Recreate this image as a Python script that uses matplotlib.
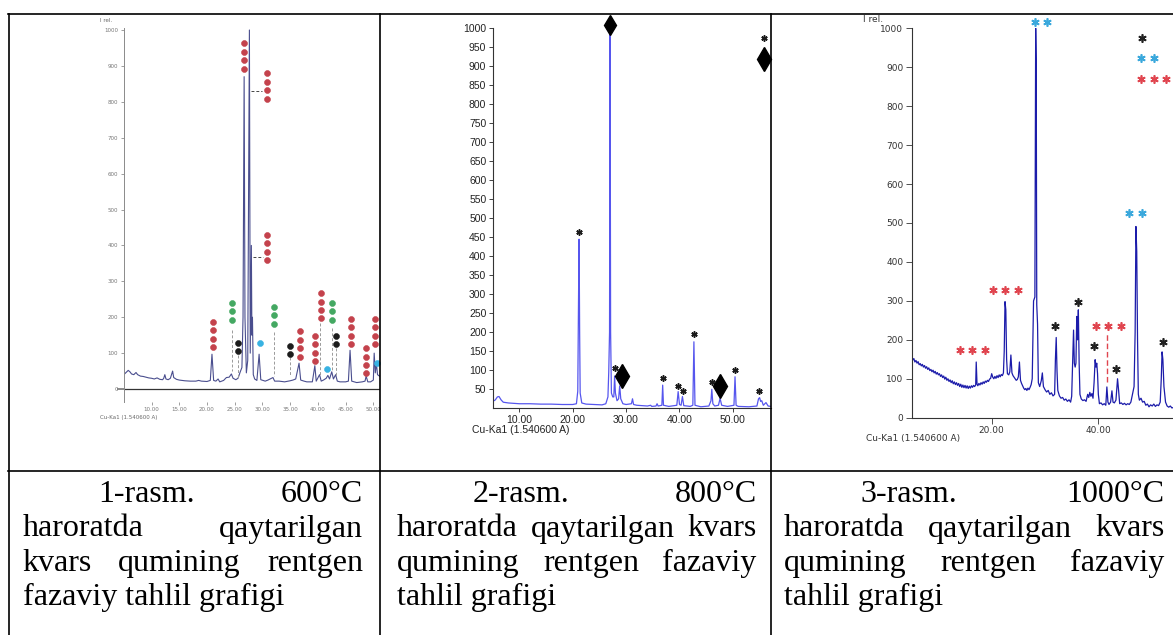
import matplotlib
matplotlib.use("Agg")
import matplotlib.pyplot as plt
from matplotlib.lines import Line2D
from matplotlib.transforms import offset_copy

W, H, DPI = 1173, 635, 100

# ---------- 1-rasm, 600 C : (2theta, I rel.)
tt1 = [5.0, 5.4, 5.8, 6.1, 6.4, 6.8, 7.2, 7.5, 8.0, 8.5, 9.0, 9.5, 10.0, 10.5, 11.0,
       11.5, 12.0, 12.2, 12.4, 12.6, 13.0, 13.4, 13.7, 13.8, 14.0, 14.5, 15.0, 16.0,
       17.0, 18.0, 18.5, 19.0, 20.0, 20.6, 20.9, 21.2, 21.6, 22.0, 22.3, 23.0, 23.5,
       24.0, 24.4, 24.7, 25.2, 25.6, 26.0, 26.3, 26.5, 26.7, 26.85, 27.1, 27.35, 27.65,
       27.8, 28.0, 28.1, 28.2, 28.35, 28.6, 29.0, 29.4, 29.7, 30.5, 31.0, 31.9, 32.2,
       33.0, 34.0, 35.0, 35.5, 36.0, 36.6, 36.9, 37.5, 38.0, 39.0, 39.45, 39.7, 40.3,
       40.6, 41.0, 41.5, 41.8, 42.1, 42.5, 42.8, 43.2, 43.5, 44.0, 45.0, 45.5, 45.8,
       46.1, 47.0, 48.0, 48.5, 48.7, 49.0, 49.5, 50.0, 50.15, 50.35, 50.55, 50.75, 51.2]
ii1 = [40, 46, 52, 48, 42, 40, 46, 40, 36, 35, 33, 31, 30, 28, 31,
       27, 26, 30, 40, 28, 26, 30, 45, 50, 32, 27, 25, 23,
       22, 22, 24, 22, 21, 24, 97, 24, 22, 28, 20, 24, 32,
       33, 42, 30, 26, 30, 48, 60, 200, 870, 200, 45, 80, 1000,
       100, 400, 150, 200, 40, 28, 24, 97, 26, 22, 25, 32, 22,
       22, 20, 23, 25, 28, 72, 25, 22, 20, 20, 65, 22, 40,
       22, 25, 30, 38, 28, 48, 28, 40, 22, 20, 20, 22, 108,
       22, 18, 20, 22, 36, 20, 20, 25, 100, 45, 72, 40, 35]
# phase marks: (2theta, top value, count, colour)
dots1 = [(26.6, 963, 4, "#c4424c"), (30.8, 879, 4, "#c4424c"), (30.8, 429, 4, "#c4424c"),
         (21.0, 187, 4, "#c4424c"), (36.7, 161, 4, "#c4424c"), (39.5, 148, 4, "#c4424c"),
         (40.5, 267, 4, "#c4424c"), (46.0, 195, 4, "#c4424c"), (48.7, 114, 4, "#c4424c"),
         (50.3, 195, 4, "#c4424c"),
         (24.5, 240, 3, "#44a862"), (32.1, 229, 3, "#44a862"), (42.5, 240, 3, "#44a862"),
         (25.6, 129, 2, "#1c1c1c"), (35.0, 121, 2, "#1c1c1c"), (43.3, 148, 2, "#1c1c1c"),
         (29.6, 129, 1, "#38b2e2"), (41.7, 56, 1, "#38b2e2"), (50.6, 73, 1, "#38b2e2")]
vdash1 = [(24.5, 164, 50), (25.6, 95, 30), (32.1, 160, 35), (35.0, 88, 35),
          (40.4, 185, 40), (42.5, 170, 50), (43.3, 115, 40)]
hdash1 = [(27.9, 29.9, 831), (28.3, 30.1, 368)]

# ---------- 2-rasm, 800 C
tt2 = [5.0, 5.5, 5.9, 6.2, 6.6, 7.0, 8.0, 9.0, 10.0, 12.0, 14.0, 16.0, 18.0, 20.0,
       20.7, 20.95, 21.1, 21.2, 21.3, 21.4, 21.7, 22.5, 24.0, 25.5, 26.2, 26.6, 26.75,
       26.9, 27.0, 27.1, 27.25, 27.5, 27.7, 27.85, 28.0, 28.3, 28.6, 28.8, 29.0, 29.4,
       30.0, 31.0, 31.2, 31.4, 32.0, 34.0, 34.6, 34.8, 35.6, 35.8, 36.0, 36.7, 36.85,
       37.0, 38.0, 39.5, 39.75, 40.0, 40.3, 40.55, 40.8, 42.0, 42.5, 42.7, 42.9, 44.0,
       45.5, 45.9, 46.05, 46.25, 46.6, 47.3, 47.6, 47.9, 49.0, 50.2, 50.4, 50.6, 51.0,
       53.0, 54.5, 54.8, 55.0, 55.2, 55.4, 55.7, 56.2, 56.6, 57.1]
ii2 = [18, 22, 30, 31, 22, 16, 14, 13, 12, 12, 11, 11, 10, 10,
       12, 45, 300, 445, 200, 40, 14, 11, 10, 9, 12, 30, 95,
       200, 1000, 200, 40, 30, 30, 85, 40, 20, 25, 59, 25, 12,
       10, 12, 25, 10, 8, 6, 8, 5, 6, 12, 6, 8, 61,
       8, 5, 8, 44, 10, 8, 31, 7, 5, 8, 175, 8, 4,
       6, 20, 50, 12, 6, 8, 26, 8, 5, 8, 83, 8, 5,
       4, 6, 25, 28, 18, 20, 8, 15, 6, 5]
stars2 = [(21.2, 465), (27.9, 105), (36.9, 81), (39.7, 59), (40.6, 46), (42.7, 196),
          (46.0, 70), (50.4, 101), (54.8, 46), (55.9, 974)]
diam2 = [(27.0, 1009, 10), (29.2, 85, 12.5), (47.6, 59, 12.5), (55.9, 918, 12.5)]

# ---------- 3-rasm, 1000 C
tt3 = [5.0, 5.2, 5.4, 5.6, 5.8, 6.0, 6.2, 6.4, 6.6, 6.8, 7.0, 7.2, 7.4, 7.6, 7.8,
       8.0, 8.2, 8.4, 8.6, 8.8, 9.0, 9.2, 9.4, 9.6, 9.8, 10.0, 10.2, 10.4, 10.6, 10.8,
       11.0, 11.2, 11.4, 11.6, 11.8, 12.0, 12.2, 12.4, 12.6, 12.8, 13.0, 13.2, 13.4,
       13.6, 13.8, 14.0, 14.2, 14.4, 14.6, 14.8, 15.0, 15.2, 15.4, 15.6, 15.8, 16.0,
       16.2, 16.4, 16.6, 16.8, 17.0, 17.1, 17.25, 17.4, 17.6, 17.8, 18.0, 18.2, 18.4,
       18.6, 18.8, 19.0, 19.2, 19.4, 19.6, 19.8, 20.0, 20.2, 20.4, 20.6, 20.8, 21.0,
       21.2, 21.4, 21.6, 21.8, 22.0, 22.2, 22.35, 22.5, 22.65, 22.8, 22.95, 23.2, 23.4,
       23.6, 23.8, 24.0, 24.2, 24.4, 24.6, 24.8, 25.0, 25.2, 25.4, 25.6, 25.8, 26.0,
       26.2, 26.4, 26.6, 26.8, 27.0, 27.2, 27.4, 27.6, 27.85, 28.1, 28.25, 28.35, 28.45,
       28.6, 28.75, 29.0, 29.3, 29.5, 29.7, 30.0, 30.3, 30.6, 30.9, 31.2, 31.5, 31.8,
       31.95, 32.1, 32.25, 32.4, 32.7, 33.0, 33.3, 33.6, 33.9, 34.2, 34.5, 34.8, 35.0,
       35.2, 35.35, 35.5, 35.65, 35.8, 35.95, 36.1, 36.25, 36.4, 36.55, 36.8, 37.1, 37.4,
       37.7, 38.0, 38.2, 38.4, 38.6, 38.8, 39.0, 39.2, 39.4, 39.55, 39.7, 39.85, 40.0,
       40.2, 40.5, 40.8, 41.1, 41.4, 41.6, 41.8, 42.0, 42.3, 42.55, 42.75, 43.0, 43.3,
       43.6, 43.8, 44.0, 44.3, 44.6, 44.9, 45.2, 45.5, 45.8, 46.1, 46.4, 46.7, 46.9,
       47.05, 47.2, 47.35, 47.5, 47.7, 48.0, 48.3, 48.6, 48.9, 49.2, 49.5, 49.8, 50.1,
       50.4, 50.7, 51.0, 51.3, 51.6, 51.8, 51.95, 52.1, 52.3, 52.6, 52.9, 53.2, 53.5,
       53.8, 54.0]
ii3 = [156, 148, 152, 143, 147, 140, 144, 136, 139, 133, 137, 130, 134, 127, 131,
       124, 128, 121, 124, 118, 122, 115, 119, 112, 116, 110, 113, 106, 110, 103,
       107, 99, 104, 96, 100, 93, 97, 90, 95, 87, 92, 85, 90,
       83, 88, 80, 86, 78, 84, 77, 83, 76, 82, 75, 81, 76,
       82, 78, 83, 80, 84, 143, 86, 82, 88, 84, 90, 86, 92,
       88, 94, 91, 96, 93, 99, 101, 113, 104, 100, 106, 101, 108,
       103, 110, 105, 111, 108, 115, 170, 298, 277, 150, 113, 110, 118,
       161, 115, 108, 104, 100, 96, 98, 105, 143, 96, 88, 82, 76,
       72, 75, 70, 76, 72, 78, 85, 100, 300, 310, 1000, 910, 290,
       240, 90, 80, 95, 115, 80, 72, 66, 70, 60, 64, 56, 60,
       150, 206, 120, 70, 56, 50, 52, 45, 48, 42, 46, 40, 55,
       150, 225, 140, 130, 140, 260, 200, 277, 140, 60, 48, 44, 46,
       42, 60, 52, 65, 55, 62, 50, 90, 149, 130, 140, 113, 60,
       36, 38, 33, 36, 32, 79, 40, 34, 40, 69, 40, 38, 45,
       100, 70, 36, 38, 34, 37, 33, 36, 34, 40, 60, 80, 220,
       491, 427, 200, 60, 45, 50, 40, 42, 32, 35, 28, 33, 30,
       35, 29, 33, 31, 40, 100, 169, 150, 80, 40, 30, 27, 30,
       25, 26]
# (2theta, value, number of asterisks, colour)
marks3 = [(29.25, 1015, 2, "#3aa8dc"), (48.1, 976, 1, "#222222"), (49.25, 923, 2, "#3aa8dc"),
          (50.4, 869, 3, "#e0454f"), (47.0, 525, 2, "#3aa8dc"), (22.5, 328, 3, "#e0454f"),
          (16.4, 174, 3, "#e0454f"), (31.9, 235, 1, "#222222"), (36.25, 298, 1, "#222222"),
          (39.25, 185, 1, "#222222"), (41.9, 235, 3, "#e0454f"), (43.4, 124, 1, "#222222"),
          (52.1, 195, 1, "#222222")]

captions = [
    [["1-rasm.", "600°C"], ["haroratda", "qaytarilgan"], ["kvars", "qumining", "rentgen"],
     ["fazaviy tahlil grafigi"]],
    [["2-rasm.", "800°C"], ["haroratda", "qaytarilgan", "kvars"], ["qumining", "rentgen", "fazaviy"],
     ["tahlil grafigi"]],
    [["3-rasm.", "1000°C"], ["haroratda", "qaytarilgan", "kvars"], ["qumining", "rentgen", "fazaviy"],
     ["tahlil grafigi"]],
]

fig = plt.figure(figsize=(W / DPI, H / DPI), dpi=DPI)
fig.patch.set_facecolor("white")


def px_box(l, t, r, b):
    return [l / W, 1 - b / H, (r - l) / W, (b - t) / H]


def fig_text(x, y, s, **kw):
    return fig.text(x / W, 1 - y / H, s, **kw)


# ---------------- plot 1
ax1 = fig.add_axes(px_box(123.8, 28.2, 380, 401.6))
ax1.plot(tt1, ii1, color="#4a4e8e", lw=0.8)
ax1.axhline(0, color="#333333", lw=0.9)
ax1.set_xlim(5, 51.2)
ax1.set_ylim(-35, 1005)
for s in ["top", "right", "bottom"]:
    ax1.spines[s].set_visible(False)
ax1.spines["left"].set_color("#8a8a8a")
ax1.spines["left"].set_linewidth(0.7)
ax1.set_xticks(range(10, 51, 5))
ax1.set_xticklabels(["%.2f" % v for v in range(10, 51, 5)])
ax1.set_yticks(range(0, 1001, 100))
ax1.tick_params(labelsize=4, colors="#777777", length=2, width=0.5, pad=2)
t0 = ax1.yaxis.get_major_ticks()[0]
t0.tick1line.set_color("#cc2222")
t0.tick1line.set_markersize(5)
t0.tick1line.set_markeredgewidth(1.2)
for x, top, n, c in dots1:
    ys = [top - k * 23.5 for k in range(n)]
    ax1.plot([x] * n, ys, "o", ms=4.3, color=c, mec=c, mew=0.4, clip_on=False, zorder=4)
for x, y0, y1 in vdash1:
    ax1.plot([x, x], [y0, y1], color="#9a9a9a", lw=0.7, ls=(0, (3, 2)))
for x0, x1, y in hdash1:
    ax1.plot([x0, x1], [y, y], color="#444444", lw=0.7, ls=(0, (3, 2)))
fig_text(100, 20, "I rel.", fontsize=4, color="#666666", va="center")
fig_text(100, 418, "Cu-Ka1 (1.540600 A)", fontsize=4, color="#666666", va="center")

# ---------------- plot 2
narrow = ["Liberation Sans Narrow", "Liberation Sans"]
ax2 = fig.add_axes(px_box(492.6, 28.3, 770.8, 408.3))
ax2.plot(tt2, ii2, color="#5656ee", lw=0.9)
ax2.set_xlim(5, 57.1)
ax2.set_ylim(0, 1000)
ax2.spines["top"].set_visible(False)
ax2.spines["right"].set_visible(False)
for s in ["left", "bottom"]:
    ax2.spines[s].set_color("#333333")
    ax2.spines[s].set_linewidth(0.8)
ax2.set_yticks(range(50, 1001, 50))
ax2.set_xticks(range(10, 51, 10))
ax2.set_xticklabels(["%.2f" % v for v in range(10, 51, 10)])
ax2.tick_params(labelsize=7.5, colors="#222222", length=3, width=0.6, pad=1.5)
for lab in ax2.get_xticklabels() + ax2.get_yticklabels():
    lab.set_family(narrow)
for x, y in stars2:
    ax2.plot(x, y, marker=(6, 2, 0), ms=4.5, mew=1.1, color="#1a1a1a", clip_on=False)
for x, y, m in diam2:
    ax2.plot(x, y, marker="d", ms=m, color="black", clip_on=False)
fig_text(471.7, 430, "Cu-Ka1 (1.540600 A)", fontsize=7.5, color="#222222", va="center",
         family=narrow)

# ---------------- plot 3
ax3 = fig.add_axes(px_box(911.7, 28.3, 1173, 417.7))
ax3.plot(tt3, ii3, color="#1c1caa", lw=0.9)
ax3.set_xlim(5, 54)
ax3.set_ylim(0, 1000)
ax3.spines["top"].set_visible(False)
ax3.spines["right"].set_visible(False)
for s in ["left", "bottom"]:
    ax3.spines[s].set_color("#333333")
    ax3.spines[s].set_linewidth(0.8)
ax3.set_yticks(range(0, 1001, 100))
ax3.set_xticks([20, 40])
ax3.set_xticklabels(["20.00", "40.00"])
ax3.tick_params(labelsize=6.5, colors="#333333", length=4, width=0.6, pad=2)
for x, y, n, c in marks3:
    for k in range(n):
        tr = offset_copy(ax3.transData, fig=fig, x=(k - (n - 1) / 2) * 9, y=0, units="points")
        ax3.plot(x, y, marker=(6, 2, 0), ms=6, mew=1.2, color=c, transform=tr, clip_on=False)
ax3.plot([41.6, 41.6], [92, 221], color="#e0454f", lw=1.0, ls=(0, (4, 2)))
fig_text(863, 19, "I rel.", fontsize=6.5, color="#333333", va="center")
fig_text(865.7, 439, "Cu-Ka1 (1.540600 A)", fontsize=6.5, color="#333333", va="center")

# ---------------- table grid
for x0, y0, x1, y1 in [(8, 14, 1173, 14), (8, 471, 1173, 471), (8.5, 14, 8.5, 635),
                       (380, 14, 380, 635), (771, 14, 771, 635)]:
    fig.add_artist(Line2D([x0 / W, x1 / W], [1 - y0 / H, 1 - y1 / H], color="black",
                          lw=1.2, transform=fig.transFigure))

# ---------------- captions (justified)
cols = [(22.7, 363.3), (396.7, 756.7), (784, 1164.3)]
baselines = [502, 536.5, 571, 605]
indent = 76
renderer = fig.canvas.get_renderer()
for (left, right), lines in zip(cols, captions):
    for li, words in enumerate(lines):
        y = baselines[li]
        x0 = left + (indent if li == 0 else 0)
        txts = [fig_text(0, y, w, fontsize=23, family="Liberation Serif", va="baseline")
                for w in words]
        if len(words) == 1:
            txts[0].set_x(x0 / W)
            continue
        widths = [t.get_window_extent(renderer).width for t in txts]
        gap = (right - x0 - sum(widths)) / (len(words) - 1)
        x = x0
        for t, w in zip(txts, widths):
            t.set_x(x / W)
            x += w + gap

fig.savefig("out.png", dpi=DPI, facecolor="white")
